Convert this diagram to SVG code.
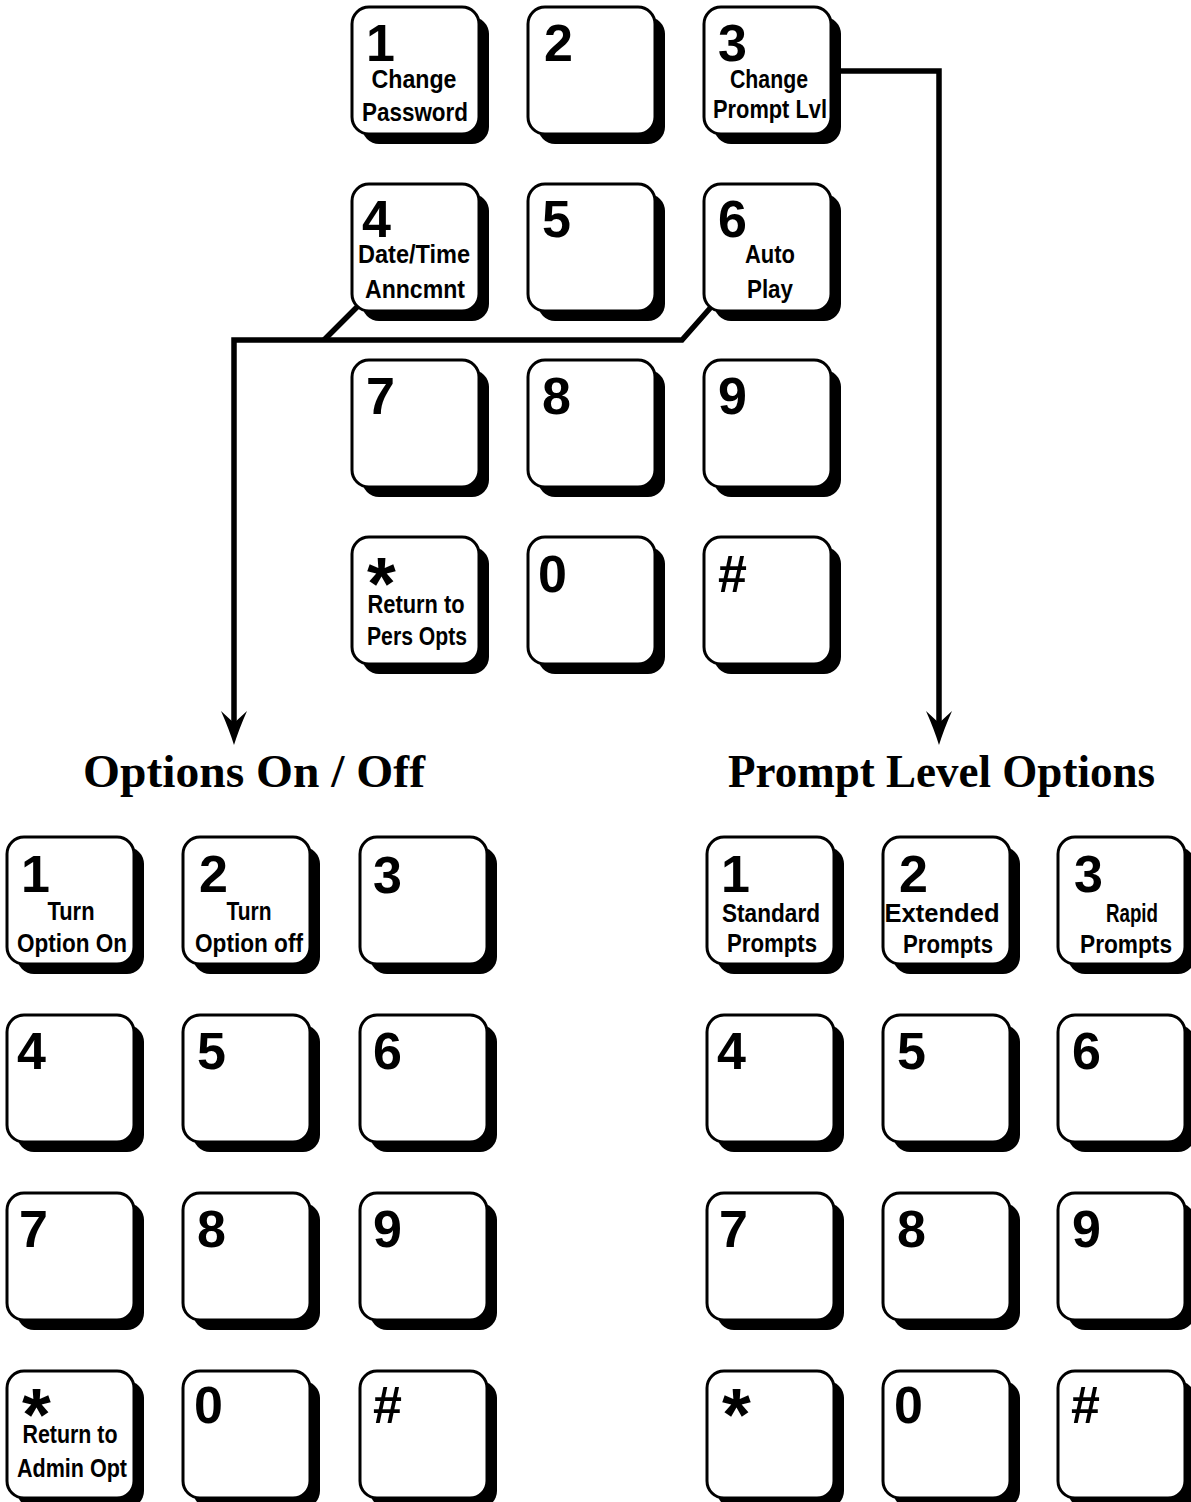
<svg xmlns="http://www.w3.org/2000/svg" width="1191" height="1502" viewBox="0 0 1191 1502">
<style>
.bg{fill:#ffffff}
.shadow{fill:#000000}
.face{fill:#ffffff;stroke:#000000;stroke-width:3}
.dig{font-family:"Liberation Sans",Arial,sans-serif;font-weight:bold;font-size:52px;fill:#000}
.ast{font-family:"Liberation Sans",Arial,sans-serif;font-weight:bold;font-size:74px;fill:#000}
.lbl{font-family:"Liberation Sans",Arial,sans-serif;font-weight:bold;font-size:25px;fill:#000;text-anchor:middle}
.head{font-family:"Liberation Serif","Times New Roman",serif;font-weight:bold;font-size:46px;fill:#000}
.conn{fill:none;stroke:#000;stroke-width:5.5;stroke-linejoin:miter}
</style>
<defs>
<marker id="arrow" markerUnits="userSpaceOnUse" markerWidth="60" markerHeight="60" refX="0" refY="0" orient="auto" overflow="visible" viewBox="-30 -30 60 60">
<path d="M22,0 Q6,-5 -12,-13 L0,0 L-12,13 Q6,5 22,0 Z" fill="#000"/>
</marker>
<g id="keybase">
<rect class="shadow" x="10" y="10" width="127" height="127" rx="17"/>
<rect class="face" x="0" y="0" width="127" height="127" rx="17"/>
</g>
</defs>
<rect class="bg" x="0" y="0" width="1191" height="1502"/>

<g id="connectors">
<path class="conn" d="M840,71 H939 V723" marker-end="url(#arrow)"/>
<path class="conn" d="M712,306 L682,340 H234 V723" marker-end="url(#arrow)"/>
<path class="conn" d="M358,306 L324,340"/>
</g>

<!-- top keypad -->
<g id="top-key-1" transform="translate(352,7)"><use href="#keybase"/><text class="dig" x="14" y="54">1</text><text class="lbl" x="62" y="81" textLength="85" lengthAdjust="spacingAndGlyphs">Change</text><text class="lbl" x="63" y="114" textLength="106" lengthAdjust="spacingAndGlyphs">Password</text></g>
<g id="top-key-2" transform="translate(528,7)"><use href="#keybase"/><text class="dig" x="16" y="54">2</text></g>
<g id="top-key-3" transform="translate(704,7)"><use href="#keybase"/><text class="dig" x="14" y="54">3</text><text class="lbl" x="65" y="81" textLength="78" lengthAdjust="spacingAndGlyphs">Change</text><text class="lbl" x="66" y="111" textLength="114" lengthAdjust="spacingAndGlyphs">Prompt Lvl</text></g>
<g id="top-key-4" transform="translate(352,184)"><use href="#keybase"/><text class="dig" x="10" y="53">4</text><text class="lbl" x="62" y="79" textLength="112" lengthAdjust="spacingAndGlyphs">Date/Time</text><text class="lbl" x="63" y="114" textLength="100" lengthAdjust="spacingAndGlyphs">Anncmnt</text></g>
<g id="top-key-5" transform="translate(528,184)"><use href="#keybase"/><text class="dig" x="14" y="53">5</text></g>
<g id="top-key-6" transform="translate(704,184)"><use href="#keybase"/><text class="dig" x="14" y="53">6</text><text class="lbl" x="66" y="79" textLength="50" lengthAdjust="spacingAndGlyphs">Auto</text><text class="lbl" x="66" y="114" textLength="46" lengthAdjust="spacingAndGlyphs">Play</text></g>
<g id="top-key-7" transform="translate(352,360)"><use href="#keybase"/><text class="dig" x="14" y="54">7</text></g>
<g id="top-key-8" transform="translate(528,360)"><use href="#keybase"/><text class="dig" x="14" y="54">8</text></g>
<g id="top-key-9" transform="translate(704,360)"><use href="#keybase"/><text class="dig" x="14" y="54">9</text></g>
<g id="top-key-star" transform="translate(352,537)"><use href="#keybase"/><text class="ast" x="15" y="72">*</text><text class="lbl" x="64" y="76" textLength="97" lengthAdjust="spacingAndGlyphs">Return to</text><text class="lbl" x="65" y="108" textLength="100" lengthAdjust="spacingAndGlyphs">Pers Opts</text></g>
<g id="top-key-0" transform="translate(528,537)"><use href="#keybase"/><text class="dig" x="10" y="55">0</text></g>
<g id="top-key-hash" transform="translate(704,537)"><use href="#keybase"/><text class="dig" x="14" y="55">#</text></g>

<!-- headings -->
<text id="heading-left" class="head" x="83" y="787" textLength="342" lengthAdjust="spacingAndGlyphs">Options On / Off</text>
<text id="heading-right" class="head" x="728" y="787" textLength="427" lengthAdjust="spacingAndGlyphs">Prompt Level Options</text>

<!-- options on/off keypad -->
<g id="left-key-1" transform="translate(7,837)"><use href="#keybase"/><text class="dig" x="14" y="55">1</text><text class="lbl" x="64" y="83" textLength="47" lengthAdjust="spacingAndGlyphs">Turn</text><text class="lbl" x="65" y="115" textLength="110" lengthAdjust="spacingAndGlyphs">Option On</text></g>
<g id="left-key-2" transform="translate(183,837)"><use href="#keybase"/><text class="dig" x="16" y="55">2</text><text class="lbl" x="66" y="83" textLength="45" lengthAdjust="spacingAndGlyphs">Turn</text><text class="lbl" x="66" y="115" textLength="108" lengthAdjust="spacingAndGlyphs">Option off</text></g>
<g id="left-key-3" transform="translate(360,837)"><use href="#keybase"/><text class="dig" x="13" y="56">3</text></g>
<g id="left-key-4" transform="translate(7,1015)"><use href="#keybase"/><text class="dig" x="10" y="54">4</text></g>
<g id="left-key-5" transform="translate(183,1015)"><use href="#keybase"/><text class="dig" x="14" y="54">5</text></g>
<g id="left-key-6" transform="translate(360,1015)"><use href="#keybase"/><text class="dig" x="13" y="54">6</text></g>
<g id="left-key-7" transform="translate(7,1193)"><use href="#keybase"/><text class="dig" x="12" y="54">7</text></g>
<g id="left-key-8" transform="translate(183,1193)"><use href="#keybase"/><text class="dig" x="14" y="54">8</text></g>
<g id="left-key-9" transform="translate(360,1193)"><use href="#keybase"/><text class="dig" x="13" y="54">9</text></g>
<g id="left-key-star" transform="translate(7,1371)"><use href="#keybase"/><text class="ast" x="15" y="69">*</text><text class="lbl" x="63" y="72" textLength="95" lengthAdjust="spacingAndGlyphs">Return to</text><text class="lbl" x="65" y="106" textLength="110" lengthAdjust="spacingAndGlyphs">Admin Opt</text></g>
<g id="left-key-0" transform="translate(183,1371)"><use href="#keybase"/><text class="dig" x="11" y="52">0</text></g>
<g id="left-key-hash" transform="translate(360,1371)"><use href="#keybase"/><text class="dig" x="13" y="52">#</text></g>

<!-- prompt level keypad -->
<g id="right-key-1" transform="translate(707,837)"><use href="#keybase"/><text class="dig" x="14" y="55">1</text><text class="lbl" x="64" y="85" textLength="98" lengthAdjust="spacingAndGlyphs">Standard</text><text class="lbl" x="65" y="115" textLength="90" lengthAdjust="spacingAndGlyphs">Prompts</text></g>
<g id="right-key-2" transform="translate(883,837)"><use href="#keybase"/><text class="dig" x="16" y="55">2</text><text class="lbl" x="59" y="85" textLength="115" lengthAdjust="spacingAndGlyphs">Extended</text><text class="lbl" x="65" y="116" textLength="90" lengthAdjust="spacingAndGlyphs">Prompts</text></g>
<g id="right-key-3" transform="translate(1058,837)"><use href="#keybase"/><text class="dig" x="16" y="55">3</text><text class="lbl" x="74" y="85" textLength="52" lengthAdjust="spacingAndGlyphs">Rapid</text><text class="lbl" x="68" y="116" textLength="92" lengthAdjust="spacingAndGlyphs">Prompts</text></g>
<g id="right-key-4" transform="translate(707,1015)"><use href="#keybase"/><text class="dig" x="10" y="54">4</text></g>
<g id="right-key-5" transform="translate(883,1015)"><use href="#keybase"/><text class="dig" x="14" y="54">5</text></g>
<g id="right-key-6" transform="translate(1058,1015)"><use href="#keybase"/><text class="dig" x="14" y="54">6</text></g>
<g id="right-key-7" transform="translate(707,1193)"><use href="#keybase"/><text class="dig" x="12" y="54">7</text></g>
<g id="right-key-8" transform="translate(883,1193)"><use href="#keybase"/><text class="dig" x="14" y="54">8</text></g>
<g id="right-key-9" transform="translate(1058,1193)"><use href="#keybase"/><text class="dig" x="14" y="54">9</text></g>
<g id="right-key-star" transform="translate(707,1371)"><use href="#keybase"/><text class="ast" x="15" y="69">*</text></g>
<g id="right-key-0" transform="translate(883,1371)"><use href="#keybase"/><text class="dig" x="11" y="52">0</text></g>
<g id="right-key-hash" transform="translate(1058,1371)"><use href="#keybase"/><text class="dig" x="13" y="52">#</text></g>
</svg>
